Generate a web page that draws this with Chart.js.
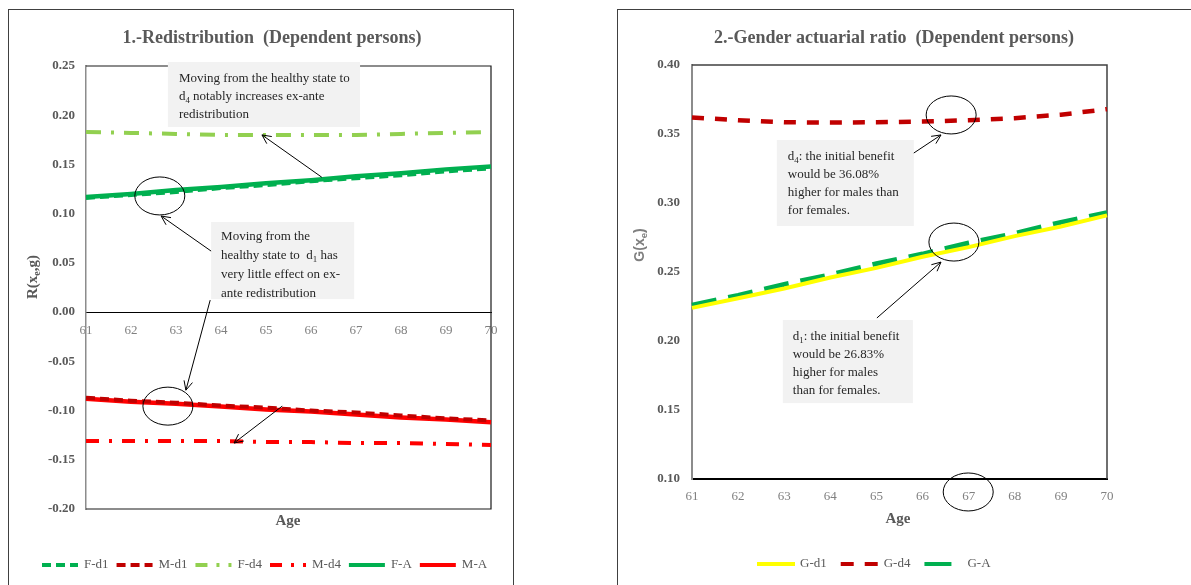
<!DOCTYPE html>
<html>
<head>
<meta charset="utf-8">
<script src="https://cdn.jsdelivr.net/npm/chart.js@4.4.0/dist/chart.umd.min.js"></script>
<style>
  html, body { margin: 0; padding: 0; background: #fff; overflow: hidden; width: 1191px; height: 585px; }
  .frame { position: absolute; border: 1.5px solid #404040; box-sizing: border-box; }
  canvas { position: absolute; }
</style>
</head>
<body>
<div class="frame" style="left:8px; top:9px; width:506px; height:620px"></div>
<div class="frame" style="left:617px; top:9px; width:620px; height:620px"></div>
<canvas id="redistribution" width="505" height="576" style="left:8px; top:9px"></canvas>
<canvas id="genderRatio" width="574" height="576" style="left:617px; top:9px"></canvas>
<script>
// ages on the x axis
const ages = ['61', '62', '63', '64', '65', '66', '67', '68', '69', '70'];

// 1. redistribution R(x_e, g)
const fD1 = [0.116, 0.119, 0.122, 0.126, 0.129, 0.133, 0.136, 0.139, 0.143, 0.146];
const mD1 = [-0.087, -0.090, -0.092, -0.095, -0.097, -0.100, -0.102, -0.105, -0.108, -0.110];
const fD4 = [0.183, 0.182, 0.181, 0.180, 0.180, 0.180, 0.180, 0.181, 0.182, 0.183];
const mD4 = [-0.131, -0.131, -0.131, -0.131, -0.132, -0.132, -0.133, -0.133, -0.134, -0.135];
const fA = [0.117, 0.120, 0.124, 0.127, 0.131, 0.134, 0.138, 0.141, 0.145, 0.148];
const mA = [-0.088, -0.091, -0.093, -0.096, -0.099, -0.101, -0.104, -0.107, -0.109, -0.112];

// 2. gender actuarial ratio G(x_e)
const gD1 = [0.224, 0.231, 0.238, 0.246, 0.253, 0.261, 0.268, 0.276, 0.283, 0.291];
const gD4 = [0.362, 0.360, 0.3585, 0.3583, 0.3585, 0.359, 0.360, 0.3615, 0.364, 0.368];
const gA = [0.226, 0.233, 0.241, 0.248, 0.256, 0.263, 0.271, 0.278, 0.286, 0.293];

const SERIF = '"Liberation Serif", "DejaVu Serif", serif';
const SANS = '"Liberation Sans", Arial, sans-serif';
const GREY = '#595959';

// text with "_{..}" parts drawn as subscripts
function richParts(str) {
  return str.split(/_\{(.*?)\}/).map((t, i) => ({ t, sub: i % 2 === 1 }));
}
function richWidth(ctx, str, size, weight, family) {
  let w = 0;
  for (const p of richParts(str)) {
    ctx.font = `${weight} ${p.sub ? size * 0.68 : size}px ${family}`;
    w += ctx.measureText(p.t).width;
  }
  return w;
}
function drawRich(ctx, str, x, y, size, weight, family) {
  for (const p of richParts(str)) {
    ctx.font = `${weight} ${p.sub ? size * 0.68 : size}px ${family}`;
    ctx.fillText(p.t, x, p.sub ? y + size * 0.28 : y);
    x += ctx.measureText(p.t).width;
  }
}

function arrow(ctx, x1, y1, x2, y2) {
  const a = Math.atan2(y2 - y1, x2 - x1);
  const len = 10, spread = Math.PI / 7;
  ctx.beginPath();
  ctx.moveTo(x1, y1);
  ctx.lineTo(x2, y2);
  ctx.moveTo(x2 - len * Math.cos(a - spread), y2 - len * Math.sin(a - spread));
  ctx.lineTo(x2, y2);
  ctx.lineTo(x2 - len * Math.cos(a + spread), y2 - len * Math.sin(a + spread));
  ctx.stroke();
}

// title, axis titles, plot frame, callouts and legend
const decor = {
  id: 'decor',
  beforeDatasetsDraw(chart, args, o) {
    const { ctx, chartArea: a } = chart;
    ctx.save();
    ctx.strokeStyle = o.frameColor;
    ctx.lineWidth = o.frameWidth;
    ctx.beginPath();
    ctx.moveTo(a.left, a.top);
    ctx.lineTo(a.right, a.top);
    ctx.lineTo(a.right, a.bottom);
    if (o.frameBottom) ctx.lineTo(a.left, a.bottom);
    ctx.stroke();
    ctx.restore();
  },
  afterDraw(chart, args, o) {
    const { ctx, scales: { x, y } } = chart;
    const px = v => x.left + (v - 61) / 9 * (x.right - x.left);
    const py = v => y.getPixelForValue(v);
    ctx.save();

    // title
    ctx.fillStyle = GREY;
    ctx.textAlign = 'center';
    ctx.textBaseline = 'middle';
    ctx.font = `bold 18px ${SERIF}`;
    ctx.fillText(o.title, o.titleX, o.titleY);

    // x axis title
    ctx.font = `bold 15px ${SERIF}`;
    ctx.fillText('Age', o.ageX, o.ageY);

    // y axis title, rotated
    ctx.save();
    ctx.translate(o.yTitle.x, o.yTitle.y);
    ctx.rotate(-Math.PI / 2);
    ctx.textAlign = 'left';
    ctx.fillStyle = o.yTitle.color;
    const w = richWidth(ctx, o.yTitle.text, o.yTitle.size, 'bold', o.yTitle.family);
    drawRich(ctx, o.yTitle.text, -w / 2, 0, o.yTitle.size, 'bold', o.yTitle.family);
    ctx.restore();

    // callout boxes
    ctx.textAlign = 'left';
    for (const n of o.notes) {
      const x1 = px(n.x1), y1 = py(n.y1), x2 = px(n.x2), y2 = py(n.y2);
      ctx.fillStyle = '#f2f2f2';
      ctx.fillRect(x1, y1, x2 - x1, y2 - y1);
      ctx.fillStyle = '#262626';
      n.lines.forEach((ln, i) => drawRich(ctx, ln, x1 + n.padX, y1 + n.padY + i * n.lineH, 13, '', SERIF));
    }

    // ellipses and arrows
    ctx.strokeStyle = '#000';
    ctx.lineWidth = 1;
    for (const e of o.ellipses) {
      ctx.beginPath();
      ctx.ellipse(px(e.x), py(e.y), 25, 19, 0, 0, Math.PI * 2);
      ctx.stroke();
    }
    for (const r of o.arrows) arrow(ctx, px(r.x1), py(r.y1), px(r.x2), py(r.y2));

    // legend, laid out left to right from legend.x
    const lg = o.legend;
    ctx.font = `13px ${SERIF}`;
    ctx.textBaseline = 'middle';
    let lx = lg.x;
    chart.data.datasets.forEach(d => {
      ctx.save();
      ctx.strokeStyle = d.borderColor;
      ctx.lineWidth = 4;
      ctx.setLineDash(d.legendDash || d.borderDash || []);
      ctx.beginPath();
      ctx.moveTo(lx, lg.y);
      ctx.lineTo(lx + lg.sample, lg.y);
      ctx.stroke();
      ctx.restore();
      ctx.fillStyle = GREY;
      ctx.fillText(d.label, lx + lg.sample + lg.gapText, lg.y);
      lx += lg.sample + lg.gapText + ctx.measureText(d.label).width + lg.gapItem;
    });
    ctx.restore();
  }
};

function lineSet(label, data, color, width, dash, legendDash) {
  return {
    label, data,
    borderColor: color, backgroundColor: color,
    borderWidth: width, borderDash: dash, legendDash,
    pointRadius: 0, tension: 0, fill: false
  };
}

const fmt = v => (Math.abs(v) < 1e-9 ? 0 : v).toFixed(2);

new Chart(document.getElementById('redistribution'), {
  type: 'line',
  data: {
    labels: ages,
    datasets: [
      lineSet('F-d1', fD1, '#00b050', 4, [9, 5]),
      lineSet('M-d1', mD1, '#c00000', 4, [9, 5]),
      lineSet('F-d4', fD4, '#92d050', 4, [15, 10, 3, 10], [12, 9, 3, 9]),
      lineSet('M-d4', mD4, '#ff0000', 4, [13, 10, 3, 10], [12, 9, 3, 9]),
      lineSet('F-A', fA, '#00b050', 4.5, []),
      lineSet('M-A', mA, '#ff0000', 4.5, [])
    ]
  },
  options: {
    responsive: false,
    animation: false,
    layout: { padding: { left: 0, top: 57, right: 22, bottom: 76 } },
    plugins: {
      legend: { display: false },
      tooltip: { enabled: false },
      decor: {
        title: '1.-Redistribution  (Dependent persons)', titleX: 264, titleY: 29,
        ageX: 280, ageY: 512,
        yTitle: { text: 'R(x_{e},g)', x: 25, y: 268, size: 15, family: SERIF, color: GREY },
        frameColor: '#1a1a1a', frameWidth: 1.2, frameBottom: true,
        legend: { x: 34, y: 556, sample: 36, gapText: 6, gapItem: 8 },
        notes: [
          { x1: 62.82, y1: 0.254, x2: 67.09, y2: 0.188, padX: 11, padY: 17, lineH: 18,
            lines: ['Moving from the healthy state to', 'd_{4} notably increases ex-ante', 'redistribution'] },
          { x1: 63.78, y1: 0.0915, x2: 66.96, y2: 0.0132, padX: 10, padY: 15, lineH: 18.7,
            lines: ['Moving from the', 'healthy state to  d_{1} has', 'very little effect on ex-', 'ante redistribution'] }
        ],
        ellipses: [ { x: 62.64, y: 0.118 }, { x: 62.82, y: -0.0955 } ],
        arrows: [
          { x1: 66.24, y1: 0.137, x2: 64.91, y2: 0.180 },
          { x1: 63.78, y1: 0.062, x2: 62.67, y2: 0.0976 },
          { x1: 63.76, y1: 0.0122, x2: 63.22, y2: -0.0793 },
          { x1: 65.36, y1: -0.0955, x2: 64.29, y2: -0.133 }
        ]
      }
    },
    scales: {
      x: {
        position: { y: 0 },
        grid: { drawOnChartArea: false, drawTicks: false },
        border: { color: '#000', width: 1 },
        ticks: { color: '#808080', font: { family: SERIF, size: 13 }, padding: 11, maxRotation: 0, autoSkip: false }
      },
      y: {
        min: -0.2, max: 0.25,
        grid: { drawOnChartArea: false, drawTicks: false },
        border: { color: '#8c8c8c', width: 1.5 },
        ticks: { stepSize: 0.05, callback: fmt, color: GREY, font: { family: SERIF, size: 13, weight: 'bold' }, padding: 11 },
        afterFit(scale) { scale.width = 78; }
      }
    }
  },
  plugins: [decor]
});

new Chart(document.getElementById('genderRatio'), {
  type: 'line',
  data: {
    labels: ages,
    datasets: [
      lineSet('G-d1', gD1, '#ffff00', 4, []),
      lineSet('G-d4', gD4, '#c00000', 4.5, [12, 11], [13, 11]),
      lineSet('G-A', gA, '#00b050', 5, [25, 12], [27, 20])
    ]
  },
  options: {
    responsive: false,
    animation: false,
    layout: { padding: { left: 0, top: 56, right: 84, bottom: 0 } },
    plugins: {
      legend: { display: false },
      tooltip: { enabled: false },
      decor: {
        title: '2.-Gender actuarial ratio  (Dependent persons)', titleX: 277, titleY: 29,
        ageX: 281, ageY: 510,
        yTitle: { text: 'G(x_{e})', x: 23, y: 236, size: 14, family: SANS, color: '#7f7f7f' },
        frameColor: '#404040', frameWidth: 1.5, frameBottom: false,
        legend: { x: 140, y: 555, sample: 38, gapText: 5, gapItem: 14 },
        notes: [
          { x1: 62.84, y1: 0.3457, x2: 65.81, y2: 0.2833, padX: 11, padY: 17, lineH: 18,
            lines: ['d_{4}: the initial benefit', 'would be 36.08%', 'higher for males than', 'for females.'] },
          { x1: 62.97, y1: 0.2152, x2: 65.79, y2: 0.155, padX: 10, padY: 17, lineH: 18,
            lines: ['d_{1}: the initial benefit', 'would be 26.83%', 'higher for males', 'than for females.'] }
        ],
        ellipses: [ { x: 66.62, y: 0.3638 }, { x: 66.68, y: 0.2717 }, { x: 66.99, y: 0.0906 } ],
        arrows: [
          { x1: 65.81, y1: 0.3362, x2: 66.40, y2: 0.3493 },
          { x1: 65.01, y1: 0.2167, x2: 66.40, y2: 0.2572 }
        ]
      }
    },
    scales: {
      x: {
        grid: { drawOnChartArea: false, drawTicks: false },
        border: { color: '#000', width: 2 },
        ticks: { color: '#808080', font: { family: SERIF, size: 13 }, padding: 10, maxRotation: 0, autoSkip: false },
        afterFit(scale) { scale.height = 106; }
      },
      y: {
        min: 0.1, max: 0.4,
        grid: { drawOnChartArea: false, drawTicks: false },
        border: { color: '#8c8c8c', width: 2 },
        ticks: { stepSize: 0.05, callback: fmt, color: GREY, font: { family: SERIF, size: 13, weight: 'bold' }, padding: 12 },
        afterFit(scale) { scale.width = 75; }
      }
    }
  },
  plugins: [decor]
});
</script>
</body>
</html>
